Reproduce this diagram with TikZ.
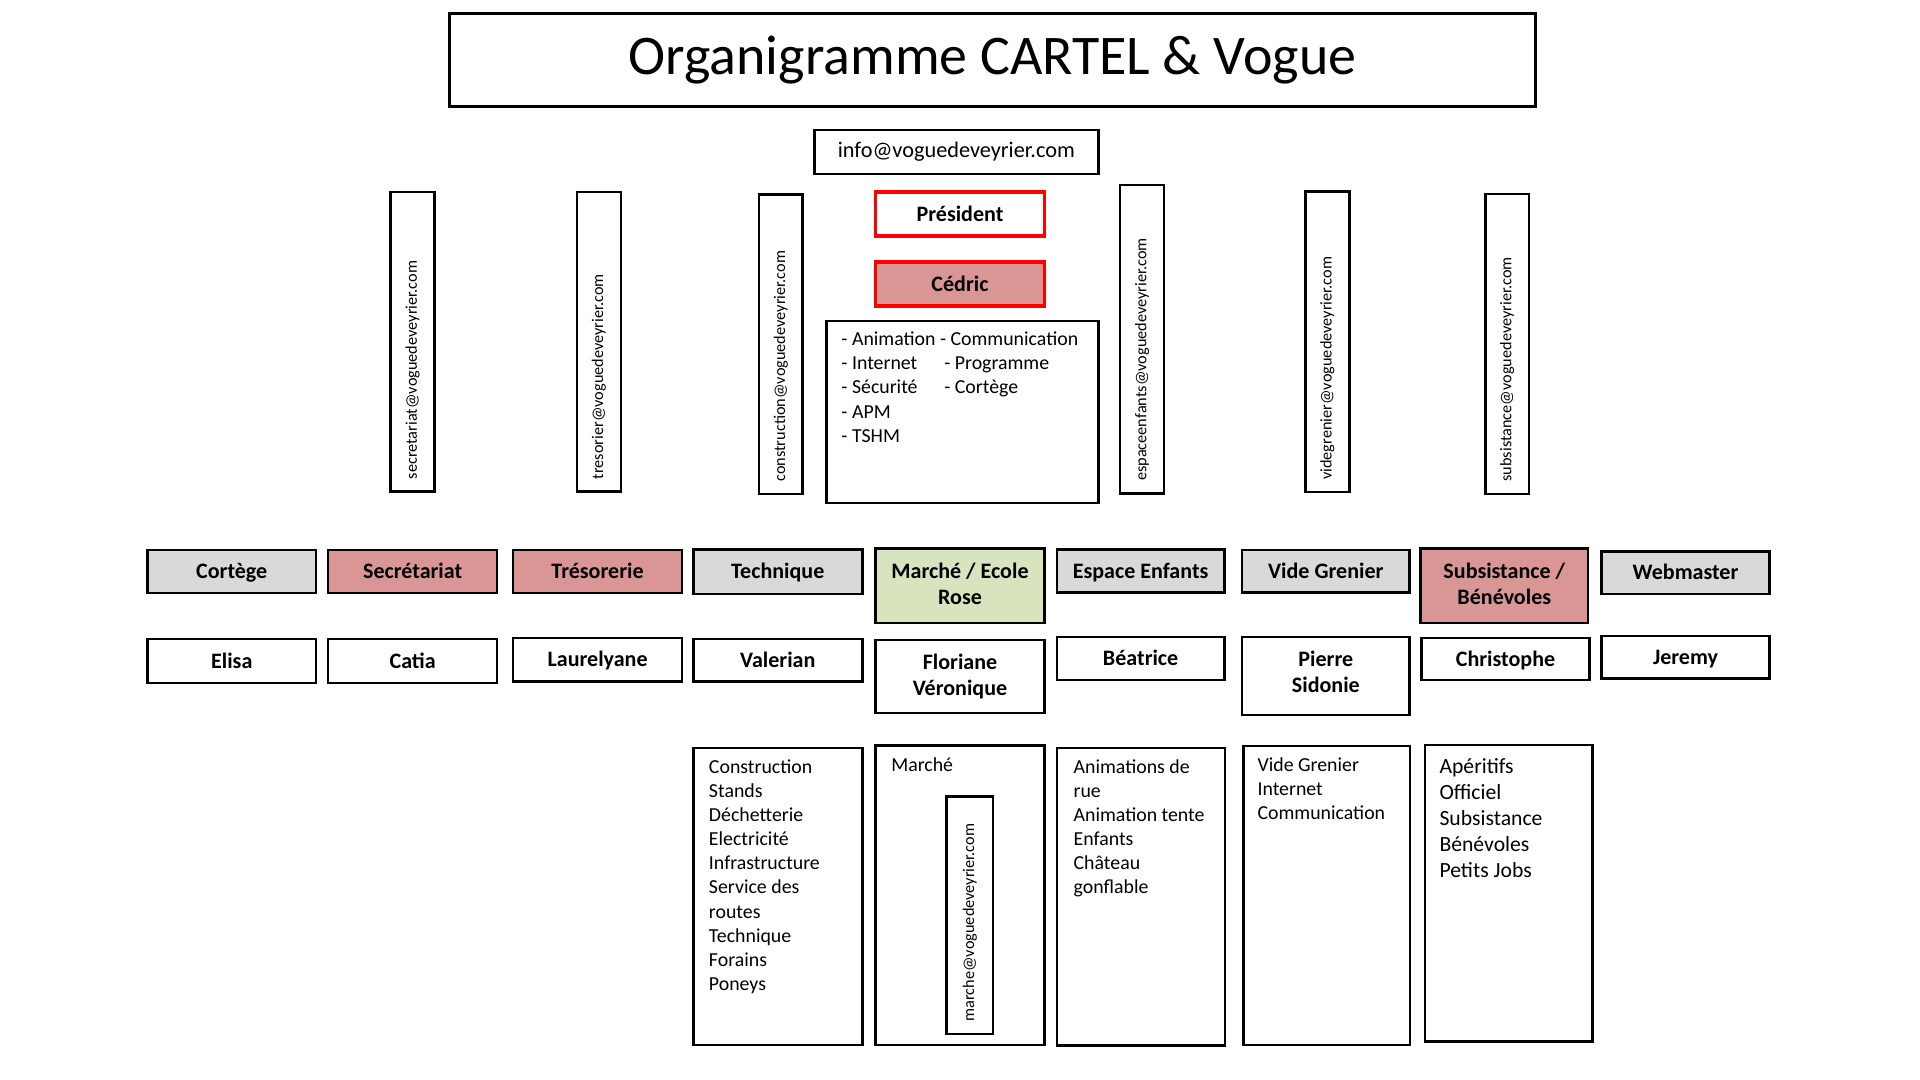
\documentclass[tikz,border=0pt]{standalone}
\usepackage{fontspec}
\setmainfont{Carlito}
\definecolor{rose}{HTML}{D99694}
\definecolor{gris}{HTML}{D9D9D9}
\definecolor{vert}{HTML}{D7E4BD}
\definecolor{rouge}{HTML}{FF0000}
\newcommand\mybox[7]{\node[#1, minimum width={(#5-#3)*1pt}, minimum height={(#6-#4)*1pt}] (#2) at ({(#3+#5)/2},{(#4+#6)/2}) {#7};}
\newcommand\lignes[1]{\begin{tabular}[t]{@{}l@{}}#1\end{tabular}}
\begin{document}
\begin{tikzpicture}[x=1pt,y=-1pt,
 cadre/.style={draw=black, line width=2pt, inner sep=0pt, fill=white},
 lbl/.style={cadre, font=\fontsize{18}{21.5}\selectfont\bfseries, align=center},
 onel/.style={text height=11.8pt, text depth=0pt},
 grisbox/.style={lbl, fill=gris},
 rosebox/.style={lbl, fill=rose},
 vertbox/.style={lbl, fill=vert},
 redframe/.style={lbl, draw=rouge, line width=3pt},
 mail/.style={font=\fontsize{13.3}{16}\selectfont, rotate=90, anchor=west, inner sep=0pt},
 lst/.style={anchor=base west, inner sep=0pt, font=\fontsize{16.2}{19.7}\selectfont},
]
\fill[white] (0,0) rectangle (1568,882);
\useasboundingbox (0,0) rectangle (1568,882);

% title
\mybox{cadre, line width=3pt, font=\fontsize{45.7}{54}\selectfont}{title}{367}{11}{1254}{87}{Organigramme CARTEL \& Vogue}
\mybox{cadre, font=\fontsize{18.2}{21}\selectfont}{info}{665}{106}{897}{142}{info@voguedeveyrier.com}

% president
\mybox{redframe,onel}{pres}{715}{157}{853}{193}{Président}
\mybox{redframe,onel,fill=rose}{cedric}{715}{214}{853}{250}{Cédric}
\mybox{cadre}{tasks}{675}{262}{897}{411}{}
\node[lst] (tasksa) at (687,282.3) {\lignes{- Animation - Communication\\- Internet\\- Sécurité\\- APM\\- TSHM}};
\node[lst] (tasksb) at (771,302) {\lignes{- Programme\\- Cortège}};

% vertical mail boxes
\mybox{cadre}{msec}{319}{157}{355}{401.5}{}
\node[mail] (tsec) at ([yshift=11pt]msec.south) {secretariat@voguedeveyrier.com};
\mybox{cadre}{mtre}{471}{157}{507}{401.5}{}
\node[mail] (ttre) at ([yshift=11pt]mtre.south) {tresorier@voguedeveyrier.com};
\mybox{cadre}{mcon}{620}{159}{655.5}{403.5}{}
\node[mail] (tcon) at ([yshift=11pt]mcon.south) {construction@voguedeveyrier.com};
\mybox{cadre}{mesp}{914.7}{151}{950.6}{403}{}
\node[mail] (tesp) at ([yshift=11pt]mesp.south) {espaceenfants@voguedeveyrier.com};
\mybox{cadre}{mvid}{1066}{156.5}{1102}{402}{}
\node[mail] (tvid) at ([yshift=11pt]mvid.south) {videgrenier@voguedeveyrier.com};
\mybox{cadre}{msub}{1213}{158.4}{1248.7}{403.4}{}
\node[mail] (tsub) at ([yshift=11pt]msub.south) {subsistance@voguedeveyrier.com};

% departments
\mybox{grisbox,onel}{dcor}{120.5}{449}{258}{484.5}{Cortège}
\mybox{rosebox,onel}{dsec}{268}{449}{406}{484.5}{Secrétariat}
\mybox{rosebox,onel}{dtre}{419}{449}{557}{484.5}{Trésorerie}
\mybox{grisbox,onel}{dtec}{566.2}{448.6}{704.2}{485}{Technique}
\mybox{vertbox, text depth=4pt}{dmar}{715}{448}{853}{509}{Marché / Ecole\\Rose}
\mybox{grisbox,onel}{desp}{863}{448.6}{1000}{484}{Espace Enfants}
\mybox{grisbox,onel}{dvid}{1014.5}{449}{1151}{484}{Vide Grenier}
\mybox{rosebox, text depth=4pt}{dsub}{1160}{448}{1297}{509}{Subsistance /\\Bénévoles}
\mybox{grisbox,onel}{dweb}{1308}{450.5}{1445}{485}{Webmaster}

% names
\mybox{lbl,onel}{ncor}{120.5}{522}{258}{558}{Elisa}
\mybox{lbl,onel}{nsec}{268}{522}{406}{558}{Catia}
\mybox{lbl,onel}{ntre}{419}{521}{557}{556.5}{Laurelyane}
\mybox{lbl,onel}{ntec}{566.2}{521.8}{704.2}{556.7}{Valerian}
\mybox{lbl}{nmar}{715}{522.7}{853}{582.5}{Floriane\\Véronique}
\mybox{lbl,onel}{nesp}{863}{520}{1000}{555.3}{Béatrice}
\mybox{lbl, text depth=7pt}{nvid}{1014.5}{520}{1151}{584}{Pierre\\Sidonie}
\mybox{lbl,onel}{nsub}{1161}{521}{1298}{555.5}{Christophe}
\mybox{lbl,onel}{nweb}{1308}{519.4}{1445}{554}{Jeremy}

% bottom task boxes
\mybox{cadre}{btec}{566.2}{611}{704.2}{853.4}{}
\node[lst] (ltec) at (578.8,631.5) {\lignes{Construction\\Stands\\Déchetterie\\Electricité\\Infrastructure\\Service des\\routes\\Technique\\Forains\\Poneys}};

\mybox{cadre}{bmar}{715}{609}{853}{853.4}{}
\node[lst] (lmar) at (727.7,630.2) {Marché};
\mybox{cadre}{mmar}{772.9}{650.6}{811}{844.4}{}
\node[mail] (tmar) at ([yshift=11pt]mmar.south) {marche@voguedeveyrier.com};

\mybox{cadre}{besp}{863}{611}{1000.5}{854}{}
\node[lst] (lesp) at (876.6,631.5) {\lignes{Animations de\\rue\\Animation tente\\Enfants\\Château\\gonflable}};

\mybox{cadre}{bvid}{1015.4}{609.2}{1151.5}{853.4}{}
\node[lst, font=\fontsize{16.2}{19.5}\selectfont] (lvid) at (1026.8,630.2) {\lignes{Vide Grenier\\Internet\\Communication}};

\mybox{cadre}{bsub}{1163.7}{608.4}{1300.7}{850.7}{}
\node[lst, font=\fontsize{17.7}{21.25}\selectfont] (lsub) at (1175.4,631.5) {\lignes{Apéritifs\\Officiel\\Subsistance\\Bénévoles\\Petits Jobs}};
\end{tikzpicture}
\end{document}
